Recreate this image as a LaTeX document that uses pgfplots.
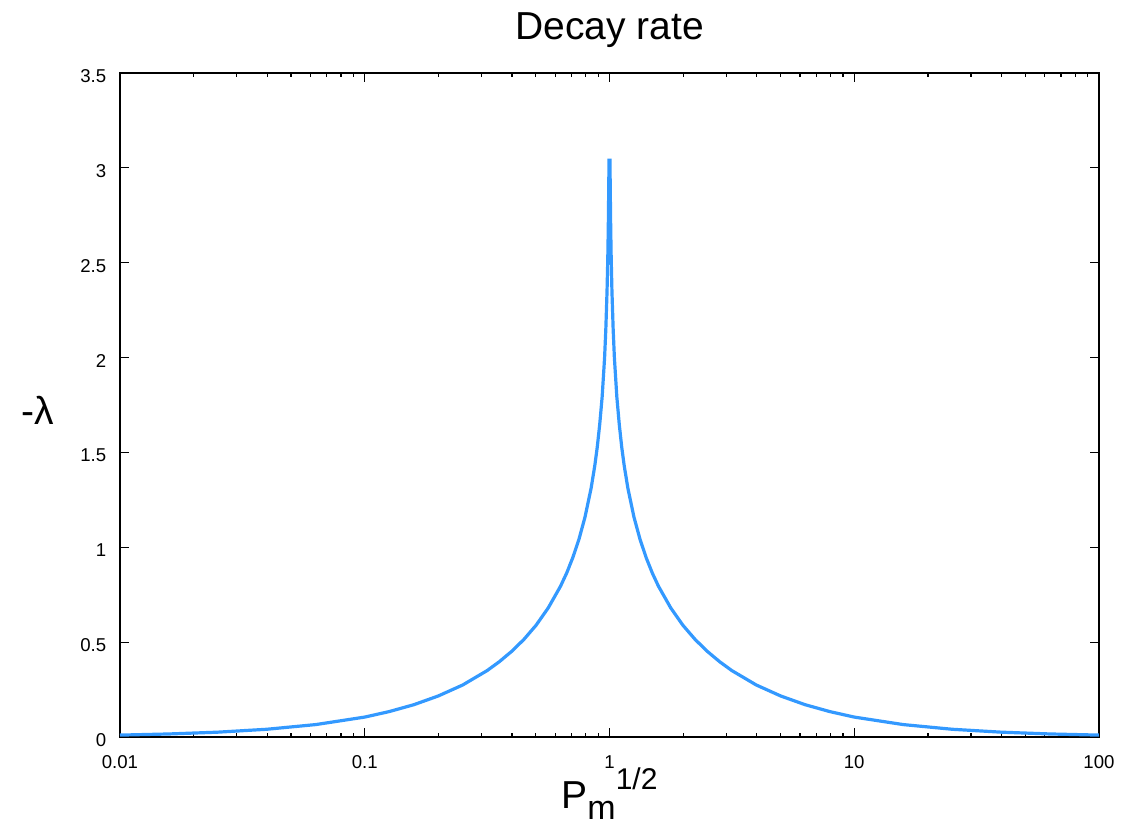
\documentclass[border=0pt]{standalone}
\usepackage{fontspec}
\setmainfont{Liberation Sans}
\usepackage{pgfplots}
\pgfplotsset{compat=1.18}
\definecolor{curve}{RGB}{51,153,255}
\begin{document}
\begin{tikzpicture}
\begin{axis}[
  scale only axis, width=489.5pt, height=332pt,
  xmode=log, xmin=0.01, xmax=100, ymin=0, ymax=3.5,
  xtick={0.01,0.1,1,10,100}, xticklabels={0.01,0.1,1,10,100},
  ytick={0,0.5,1,1.5,2,2.5,3,3.5}, yticklabels={0,0.5,1,1.5,2,2.5,3,3.5},
  tick align=inside, major tick length=4.5pt, minor tick length=2pt,
  every tick/.style={black, line width=0.6pt},
  axis line style={black, line width=0.8pt},
  /pgf/number format/assume math mode=true,
  ticklabel style={font=\fontsize{9.3}{11}\selectfont},
  xticklabel style={anchor=base, yshift=-15.5pt},
  yticklabel style={xshift=-3.4pt, yshift=-1.5pt},
]
\addplot[curve, line width=1.6pt] coordinates {
(0.01,0.0100) (0.01585,0.0160) (0.02512,0.0255) (0.03981,0.0408) (0.06310,0.0655)
(0.1,0.105) (0.1259,0.134) (0.1585,0.170) (0.1995,0.216) (0.2512,0.274)
(0.3162,0.350) (0.3548,0.397) (0.3981,0.451) (0.4467,0.514) (0.5012,0.589)
(0.5623,0.681) (0.6310,0.795) (0.6683,0.864) (0.7079,0.945) (0.7499,1.041)
(0.7943,1.159) (0.8414,1.312) (0.8710,1.431) (0.8913,1.528) (0.9120,1.647)
(0.9333,1.793) (0.9550,2.000) (0.9661,2.150) (0.9772,2.350) (0.9840,2.52)
(0.9886,2.68) (0.9931,2.90) (0.99543,3.04)
(1.00459,3.04) (1.0069,2.90) (1.0115,2.68) (1.0163,2.52) (1.0233,2.350)
(1.0351,2.150) (1.0471,2.000) (1.0715,1.793) (1.0965,1.647) (1.1220,1.528)
(1.1482,1.431) (1.1885,1.312) (1.2589,1.159) (1.3335,1.041) (1.4125,0.945)
(1.4962,0.864) (1.5849,0.795) (1.7783,0.681) (1.9953,0.589) (2.2387,0.514)
(2.5119,0.451) (2.8184,0.397) (3.1623,0.350) (3.9811,0.274) (5.0119,0.216)
(6.3096,0.170) (7.9433,0.134) (10,0.105) (15.849,0.0655) (25.119,0.0408)
(39.811,0.0255) (63.096,0.0160) (100,0.0100)
};
\end{axis}
\path (current axis.south west) ++(-60pt,-44pt) rectangle ++(569pt,412.5pt);
\node[font=\fontsize{19.5}{23}\selectfont, anchor=base, yshift=16.5pt] at (current axis.north) {Decay rate};
\node[font=\fontsize{19.5}{23}\selectfont, anchor=center, xshift=-41.25pt, yshift=-2.5pt] at (current axis.west) {-λ};
\node[font=\fontsize{19.5}{23}\selectfont, anchor=base, yshift=-35.5pt] at (current axis.south)
  {P\raisebox{-5.5pt}{\fontsize{17}{19}\selectfont m}\raisebox{9.5pt}{\fontsize{15}{17}\selectfont 1/2}};
\end{tikzpicture}
\end{document}
